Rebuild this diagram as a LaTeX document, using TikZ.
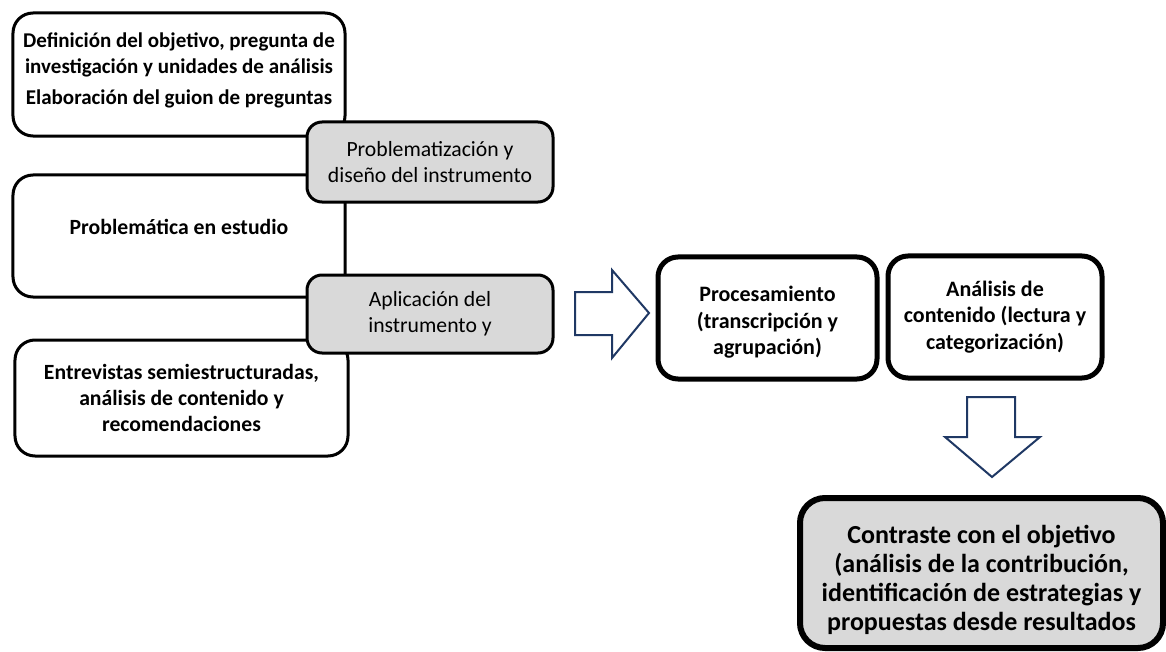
\documentclass[tikz,border=0pt]{standalone}
\usepackage{fontspec}
\setmainfont{Carlito}
\usetikzlibrary{positioning}

\definecolor{boxgray}{HTML}{D9D9D9}
\definecolor{arrownavy}{HTML}{1F3864}

\begin{document}
\begin{tikzpicture}[x=1bp,y=-1bp,every node/.style={inner sep=0pt,align=center},
  whitebox/.style={draw,line width=3bp,rounded corners=20bp,fill=white,font=\fontsize{21.7bp}{25.8bp}\selectfont\bfseries},
  graybox/.style={draw,line width=3bp,rounded corners=15bp,fill=boxgray,minimum width=246bp,font=\fontsize{21.7bp}{25.8bp}\selectfont},
  procbox/.style={draw,line width=5bp,rounded corners=20bp,fill=white,minimum height=122bp,font=\fontsize{22bp}{26.5bp}\selectfont\bfseries},
  resultbox/.style={draw,line width=6bp,rounded corners=25bp,fill=boxgray,font=\fontsize{26bp}{29bp}\selectfont\bfseries},
  blockarrow/.style={draw=arrownavy,line width=2bp,fill=white,line join=miter}]
\useasboundingbox (0,0) rectangle (1166,652);
% left column
\node[whitebox,minimum width=332bp,minimum height=123bp,text depth=11bp,font=\fontsize{21bp}{25.6bp}\selectfont\bfseries] (objetivo) at (179,74.5) {Definición del objetivo, pregunta de\\investigación y unidades de análisis\\[6bp]Elaboración del guion de preguntas};
\node[whitebox,minimum width=332bp,minimum height=122bp,text depth=19bp] (problematica) at (179,236) {Problemática en estudio};
\node[whitebox,minimum width=333bp,minimum height=116bp] (entrevistas) at (181.5,398) {Entrevistas semiestructuradas,\\análisis de contenido y\\recomendaciones};
\node[graybox,minimum height=80bp] (diseno) at (430,162) {Problematización y\\diseño del instrumento};
\node[graybox,minimum height=78bp] (aplicacion) at (430,314) {Aplicación del\\instrumento y};
% right part
\draw[blockarrow] (575,292) -- (612,292) -- (612,270) -- (649,313) -- (612,358) -- (612,335) -- (575,335) -- cycle;
\node[procbox,minimum width=219bp] (procesamiento) at (767.5,318) {\rule{0pt}{24bp}Procesamiento\\(transcripción y\\agrupación)};
\node[procbox,minimum width=214bp] (analisis) at (995,317) {Análisis de\\contenido (lectura y\\categorización)};
\draw[blockarrow] (967,397) -- (1015,397) -- (1015,437) -- (1040,437) -- (992,477) -- (945,437) -- (967,437) -- cycle;
\node[resultbox,minimum width=363bp,minimum height=150bp] (contraste) at (981.5,573) {\rule{0pt}{33bp}Contraste con el objetivo\\(análisis de la contribución,\\identificación de estrategias y\\propuestas desde resultados};
\end{tikzpicture}
\end{document}
